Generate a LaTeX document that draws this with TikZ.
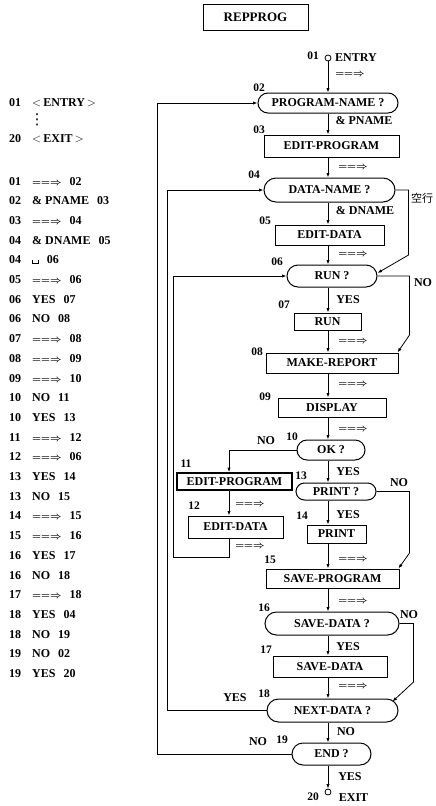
\documentclass[tikz,border=0pt]{standalone}
\usepackage{fontspec}
\setmainfont{Liberation Serif}
\newfontfamily\cjk{Noto Sans CJK JP}
\newfontfamily\djv{DejaVu Sans}
\usetikzlibrary{arrows.meta,shapes.misc}
\newcommand{\dblarr}{{\fontsize{10}{12}\selectfont\boldmath$\mathrel{=}\mathrel{=}\mathrel{\Rightarrow}$}}
\newcommand{\visp}{\leavevmode\vrule height 3.5pt depth 0pt width .8pt\vrule height .8pt depth 0pt width 5pt\vrule height 3.5pt depth 0pt width .8pt}
\newcommand{\angl}[1]{{\fontsize{13}{14}\selectfont$<$}\,#1\,{\fontsize{13}{14}\selectfont$>$}}
\tikzset{
  every node/.style={font=\fontsize{12}{14}\selectfont\bfseries},
  box/.style={draw, line width=1pt, rectangle, inner sep=0pt},
  qbox/.style={draw, line width=1pt, rounded rectangle, inner sep=0pt},
  num/.style={font=\fontsize{11.5}{13}\selectfont\bfseries, inner sep=0pt},
  lbl/.style={inner sep=0pt},
  ln/.style={line width=0.8pt},
  arr/.style={ln, -{Latex[length=4.5pt,width=3.2pt]}},
  term/.style={circle, draw, line width=0.8pt, inner sep=0pt, minimum size=6pt},
}
\begin{document}
\begin{tikzpicture}[x=1pt,y=-1pt]
\useasboundingbox (0,0) rectangle (436,806);
\node[box, minimum width=105pt, minimum height=26pt, font=\fontsize{13}{15}\selectfont\bfseries] (title) at (255.5,17) {REPPROG};

% ---------- left listing ----------
\node[lbl, anchor=base west] (e1) at (9,106) {01};
\node[lbl, anchor=base west] (e2) at (32,106) {\angl{ENTRY}};
\node[lbl, font=\fontsize{15}{15}\selectfont\djv] (e3) at (37,120) {⋮};
\node[lbl, anchor=base west] (e4) at (9,142) {20};
\node[lbl, anchor=base west] (e5) at (32,142) {\angl{EXIT}};
\foreach \a/\b/\c [count=\k from 0] in {
  01/\dblarr/02, 02/\& PNAME/03, 03/\dblarr/04, 04/\& DNAME/05, 04/\visp/06,
  05/\dblarr/06, 06/YES/07, 06/NO/08, 07/\dblarr/08, 08/\dblarr/09,
  09/\dblarr/10, 10/NO/11, 10/YES/13, 11/\dblarr/12, 12/\dblarr/06,
  13/YES/14, 13/NO/15, 14/\dblarr/15, 15/\dblarr/16, 16/YES/17,
  16/NO/18, 17/\dblarr/18, 18/YES/04, 18/NO/19, 19/NO/02, 19/YES/20}{
  \node[lbl, anchor=base west] (la\k) at (9,{185+19.7*\k}) {\a};
  \node[lbl, anchor=base west] (lb\k) at (32,{185+19.7*\k}) {\b\hspace{8pt}\c};
}

% ---------- flowchart nodes ----------
\coordinate (cm) at (328,0);
\coordinate (cl) at (229,0);
\node[term] (entry) at (328,58) {};
\node[qbox, minimum width=140pt, minimum height=20pt] (n02) at (328,103) {PROGRAM-NAME ?};
\node[box, minimum width=135pt, minimum height=22pt] (n03) at (331.5,146) {EDIT-PROGRAM};
\node[qbox, minimum width=131pt, minimum height=24pt] (n04) at (329.5,190) {DATA-NAME ?};
\node[box, minimum width=109pt, minimum height=20pt] (n05) at (329.5,235) {EDIT-DATA};
\node[qbox, minimum width=90pt, minimum height=22pt] (n06) at (332,276) {RUN ?};
\node[box, minimum width=67pt, minimum height=17pt] (n07) at (327.5,321.5) {RUN};
\node[box, minimum width=132pt, minimum height=20pt] (n08) at (332,363) {MAKE-REPORT};
\node[box, minimum width=108pt, minimum height=19pt] (n09) at (332,407.5) {DISPLAY};
\node[qbox, minimum width=68pt, minimum height=20pt] (n10) at (331,450) {OK ?};
\node[box, line width=1.6pt, minimum width=115pt, minimum height=17pt] (n11) at (234.5,481.5) {EDIT-PROGRAM};
\node[box, minimum width=95pt, minimum height=22pt] (n12) at (235.5,527) {EDIT-DATA};
\node[qbox, minimum width=80pt, minimum height=17pt] (n13) at (336,491.5) {PRINT ?};
\node[box, minimum width=59pt, minimum height=18pt] (n14) at (336.5,534) {PRINT};
\node[box, minimum width=133pt, minimum height=19pt] (n15) at (332.5,578.5) {SAVE-PROGRAM};
\node[qbox, minimum width=134pt, minimum height=23pt] (n16) at (332,623.5) {SAVE-DATA ?};
\node[box, minimum width=114pt, minimum height=21pt] (n17) at (330,666.5) {SAVE-DATA};
\node[qbox, minimum width=131pt, minimum height=23pt] (n18) at (332.5,710.5) {NEXT-DATA ?};
\node[qbox, minimum width=79pt, minimum height=22pt] (n19) at (331.5,754) {END ?};
\node[term] (exit) at (328,792) {};

% ---------- main column connectors ----------
\draw[arr] (entry.south) -- (n02.north -| cm);
\foreach \p/\q in {n02/n03, n03/n04, n04/n05, n05/n06, n06/n07, n07/n08, n08/n09,
  n09/n10, n10/n13, n13/n14, n14/n15, n15/n16, n16/n17, n17/n18, n18/n19}{
  \draw[arr] (\p.south -| cm) -- (\q.north -| cm);
}
\draw[arr] (n19.south -| cm) -- (exit.north);

% left branch 10 -> 11 -> 12 -> 06
\draw[arr] (n10.west) -- (n10.west -| cl) -- (n11.north -| cl);
\draw[arr] (n11.south -| cl) -- (n12.north -| cl);
\coordinate (x3) at (173,557);
\draw[arr] (n12.south -| cl) -- (cl |- x3) -- (x3) -- (x3 |- n06.west) -- (n06.west);
% loops
\coordinate (x1) at (157,0);
\coordinate (x2) at (167,0);
\draw[arr] (n19.west) -- (x1 |- n19.west) -- (x1 |- n02.west) -- (n02.west);
\draw[arr] (n18.west) -- (x2 |- n18.west) -- (x2 |- n04.west) -- (n04.west);

% right branches
\draw[arr] (n04.east) -- ++(13,0) -- ++(0,65) -- ([yshift=3pt]n06.east);
\draw[arr] (n06.east) -- ++(32,0) -- ++(0,59) -- ([xshift=-1pt]n08.north east);
\draw[arr] (n13.east) -- ++(33,0) -- ++(0,61.5) -- ([xshift=-1pt]n15.north east);
\draw[arr] (n16.east) -- ++(14,0) -- ++(0,58.5) -- ([xshift=-6pt,yshift=9pt]n18.east);

% ---------- step numbers ----------
\foreach \t/\x/\y [count=\i] in {01/313/56, 02/259/88, 03/259/130, 04/254/175, 05/265/221,
  06/277/262, 07/284/305, 08/257/352, 09/265/397, 10/292/437, 11/186/464, 12/194/506,
  13/301/476, 14/302/516, 15/270/560, 16/264/608, 17/266/650, 18/264/694, 19/282/740, 20/313/797}{
  \node[num] (s\i) at (\x,\y) {\t};
}

% ---------- connector labels ----------
\node[lbl] (tentry) at (356,58) {ENTRY};
\node[lbl] (texit) at (353.5,798) {EXIT};
\foreach \x/\y [count=\i] in {350/75, 353/168, 353/255, 353/342, 353/385, 353/430,
  250/505, 250/547, 353/560, 353/602, 353/687}{
  \node[lbl] (d\i) at (\x,\y) {\dblarr};
}
\node[lbl] (tp) at (364,121) {\& PNAME};
\node[lbl] (td) at (365,211) {\& DNAME};
\node[lbl, font=\fontsize{11}{13}\selectfont] (tk) at (422,198) {\cjk 空行};
\foreach \t/\x/\y [count=\i] in {NO/423/283, YES/348/300, NO/266/441, YES/348/472,
  NO/399/483, YES/348/515, NO/409/615, YES/348/647, YES/235/698, NO/346/732,
  NO/258/742, YES/350/777}{
  \node[lbl] (w\i) at (\x,\y) {\t};
}
\end{tikzpicture}
\end{document}
